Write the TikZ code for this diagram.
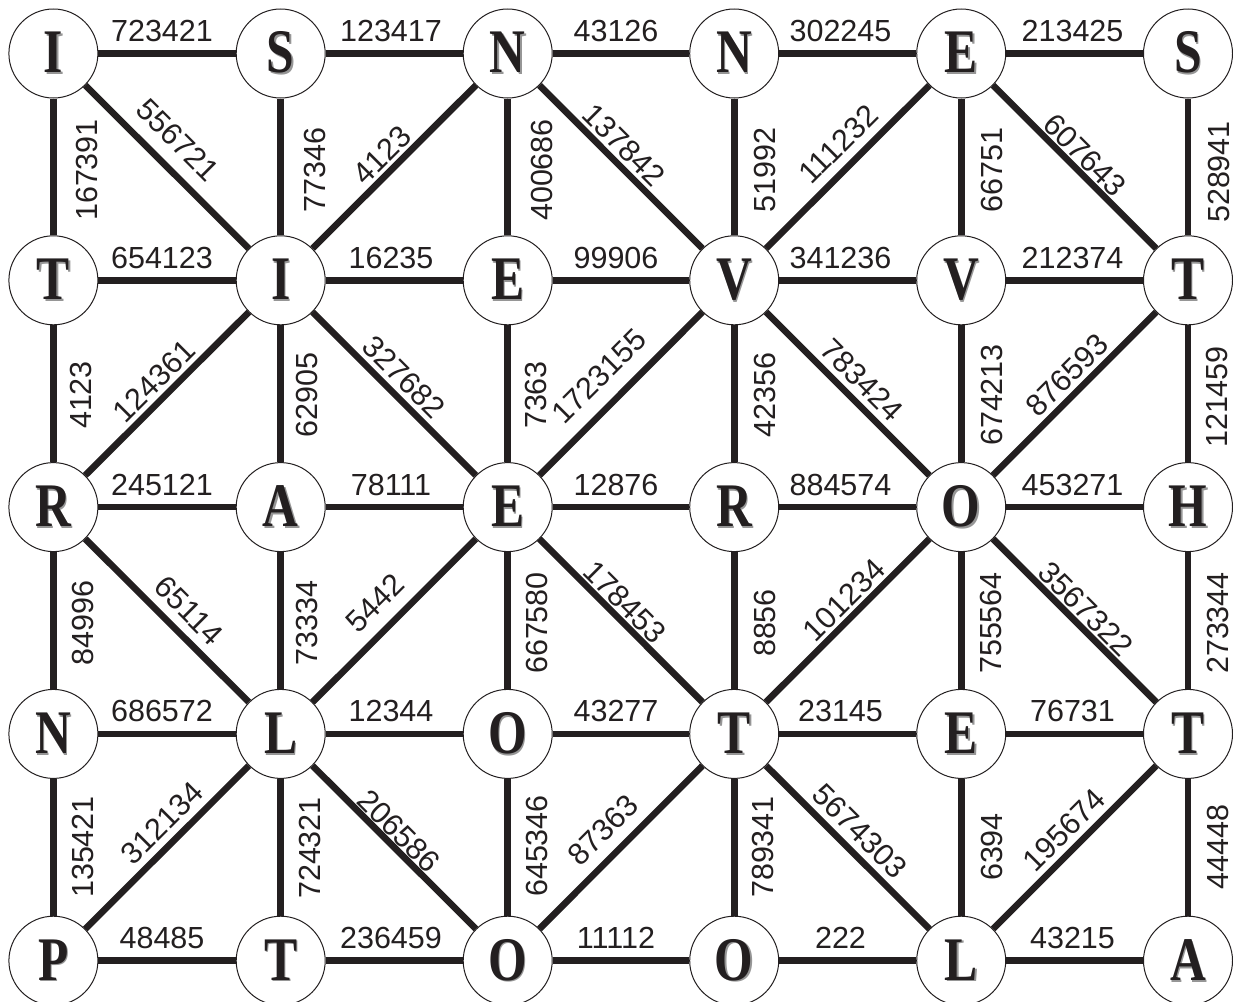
\documentclass[tikz,border=0pt]{standalone}
\usepackage{fontspec}
\usepackage{graphicx}
\newfontfamily\lblfont{Liberation Sans}
\newfontfamily\letfont{Liberation Serif}
\definecolor{ink}{RGB}{35,31,32}
\definecolor{shade}{RGB}{150,150,150}
\newcommand\letr[1]{\scalebox{0.8}[1]{\makebox[0pt][l]{\hspace{1.8pt}\raisebox{-1.8pt}{\textcolor{shade}{#1}}}#1}}
\begin{document}
\begin{tikzpicture}[x=1pt,y=-1pt,
  letter/.style={circle,draw=ink,line width=1pt,fill=white,minimum size=89pt,inner sep=0pt,
    font=\letfont\bfseries\fontsize{62}{70}\selectfont,text=ink},
  edge/.style={draw=ink,line width=6.6pt},
  lbl/.style={inner sep=0pt,font=\lblfont\fontsize{30.5}{36}\selectfont,text=ink},
  vl/.style={lbl,rotate=90},
  dd/.style={lbl,rotate=-45},
  du/.style={lbl,rotate=45}]
\useasboundingbox (0,0) rectangle (1233,1001);
\fill[white] (0,0) rectangle (1233,1001);
% nodes
\node[letter] (n00) at (53.4,53.5) {\letr{I}};
\node[letter] (n01) at (280.7,53.5) {\letr{S}};
\node[letter] (n02) at (507.7,53.5) {\letr{N}};
\node[letter] (n03) at (734.2,53.5) {\letr{N}};
\node[letter] (n04) at (961.2,53.5) {\letr{E}};
\node[letter] (n05) at (1188,53.5) {\letr{S}};
\node[letter] (n10) at (53.4,280.3) {\letr{T}};
\node[letter] (n11) at (280.7,280.3) {\letr{I}};
\node[letter] (n12) at (507.7,280.3) {\letr{E}};
\node[letter] (n13) at (734.2,280.3) {\letr{V}};
\node[letter] (n14) at (961.2,280.3) {\letr{V}};
\node[letter] (n15) at (1188,280.3) {\letr{T}};
\node[letter] (n20) at (53.4,507.1) {\letr{R}};
\node[letter] (n21) at (280.7,507.1) {\letr{A}};
\node[letter] (n22) at (507.7,507.1) {\letr{E}};
\node[letter] (n23) at (734.2,507.1) {\letr{R}};
\node[letter] (n24) at (961.2,507.1) {\letr{O}};
\node[letter] (n25) at (1188,507.1) {\letr{H}};
\node[letter] (n30) at (53.4,733.9) {\letr{N}};
\node[letter] (n31) at (280.7,733.9) {\letr{L}};
\node[letter] (n32) at (507.7,733.9) {\letr{O}};
\node[letter] (n33) at (734.2,733.9) {\letr{T}};
\node[letter] (n34) at (961.2,733.9) {\letr{E}};
\node[letter] (n35) at (1188,733.9) {\letr{T}};
\node[letter] (n40) at (53.4,960.7) {\letr{P}};
\node[letter] (n41) at (280.7,960.7) {\letr{T}};
\node[letter] (n42) at (507.7,960.7) {\letr{O}};
\node[letter] (n43) at (734.2,960.7) {\letr{O}};
\node[letter] (n44) at (961.2,960.7) {\letr{L}};
\node[letter] (n45) at (1188,960.7) {\letr{A}};
% horizontal edges
\draw[edge] (n00) -- (n01); \node[lbl] (h00) at (162,31) {723421};
\draw[edge] (n01) -- (n02); \node[lbl] (h01) at (391,31) {123417};
\draw[edge] (n02) -- (n03); \node[lbl] (h02) at (616,31) {43126};
\draw[edge] (n03) -- (n04); \node[lbl] (h03) at (840.5,31) {302245};
\draw[edge] (n04) -- (n05); \node[lbl] (h04) at (1072.5,31) {213425};
\draw[edge] (n10) -- (n11); \node[lbl] (h10) at (162,257.8) {654123};
\draw[edge] (n11) -- (n12); \node[lbl] (h11) at (391,257.8) {16235};
\draw[edge] (n12) -- (n13); \node[lbl] (h12) at (616,257.8) {99906};
\draw[edge] (n13) -- (n14); \node[lbl] (h13) at (840.5,257.8) {341236};
\draw[edge] (n14) -- (n15); \node[lbl] (h14) at (1072.5,257.8) {212374};
\draw[edge] (n20) -- (n21); \node[lbl] (h20) at (162,484.6) {245121};
\draw[edge] (n21) -- (n22); \node[lbl] (h21) at (391,484.6) {78111};
\draw[edge] (n22) -- (n23); \node[lbl] (h22) at (616,484.6) {12876};
\draw[edge] (n23) -- (n24); \node[lbl] (h23) at (840.5,484.6) {884574};
\draw[edge] (n24) -- (n25); \node[lbl] (h24) at (1072.5,484.6) {453271};
\draw[edge] (n30) -- (n31); \node[lbl] (h30) at (162,711) {686572};
\draw[edge] (n31) -- (n32); \node[lbl] (h31) at (391,711) {12344};
\draw[edge] (n32) -- (n33); \node[lbl] (h32) at (616,711) {43277};
\draw[edge] (n33) -- (n34); \node[lbl] (h33) at (840.5,711) {23145};
\draw[edge] (n34) -- (n35); \node[lbl] (h34) at (1072.5,711) {76731};
\draw[edge] (n40) -- (n41); \node[lbl] (h40) at (162,938.2) {48485};
\draw[edge] (n41) -- (n42); \node[lbl] (h41) at (391,938.2) {236459};
\draw[edge] (n42) -- (n43); \node[lbl] (h42) at (616,938.2) {11112};
\draw[edge] (n43) -- (n44); \node[lbl] (h43) at (840.5,938.2) {222};
\draw[edge] (n44) -- (n45); \node[lbl] (h44) at (1072.5,938.2) {43215};
% vertical edges
\draw[edge] (n00) -- (n10); \node[vl] (v00) at (87,170) {167391};
\draw[edge] (n01) -- (n11); \node[vl] (v01) at (314.5,170) {77346};
\draw[edge] (n02) -- (n12); \node[vl] (v02) at (541.5,170) {400686};
\draw[edge] (n03) -- (n13); \node[vl] (v03) at (765,170) {51992};
\draw[edge] (n04) -- (n14); \node[vl] (v04) at (992,170) {66751};
\draw[edge] (n05) -- (n15); \node[vl] (v05) at (1218.5,172) {528941};
\draw[edge] (n10) -- (n20); \node[vl] (v10) at (81,395) {4123};
\draw[edge] (n11) -- (n21); \node[vl] (v11) at (307,395) {62905};
\draw[edge] (n12) -- (n22); \node[vl] (v12) at (535.7,395) {7363};
\draw[edge] (n13) -- (n23); \node[vl] (v13) at (764.7,395) {42356};
\draw[edge] (n14) -- (n24); \node[vl] (v14) at (991.5,395) {674213};
\draw[edge] (n15) -- (n25); \node[vl] (v15) at (1217,397) {121459};
\draw[edge] (n20) -- (n30); \node[vl] (v20) at (83,623) {84996};
\draw[edge] (n21) -- (n31); \node[vl] (v21) at (307.4,623) {73334};
\draw[edge] (n22) -- (n32); \node[vl] (v22) at (537,623) {667580};
\draw[edge] (n23) -- (n33); \node[vl] (v23) at (764.7,623) {8856};
\draw[edge] (n24) -- (n34); \node[vl] (v24) at (990.6,623) {755564};
\draw[edge] (n25) -- (n35); \node[vl] (v25) at (1218,623) {273344};
\draw[edge] (n30) -- (n40); \node[vl] (v30) at (83,847) {135421};
\draw[edge] (n31) -- (n41); \node[vl] (v31) at (310.4,848) {724321};
\draw[edge] (n32) -- (n42); \node[vl] (v32) at (536.8,846) {645346};
\draw[edge] (n33) -- (n43); \node[vl] (v33) at (763.3,847) {789341};
\draw[edge] (n34) -- (n44); \node[vl] (v34) at (991.5,847) {6394};
\draw[edge] (n35) -- (n45); \node[vl] (v35) at (1218,847) {44448};
% diagonal edges
\draw[edge] (n00) -- (n11); \node[dd] (d00) at (178,140) {556721};
\draw[edge] (n11) -- (n02); \node[du] (d01) at (382.5,155) {4123};
\draw[edge] (n02) -- (n13); \node[dd] (d02) at (624,145) {137842};
\draw[edge] (n13) -- (n04); \node[du] (d03) at (838.4,144) {111232};
\draw[edge] (n04) -- (n15); \node[dd] (d04) at (1084.5,155) {607643};
\draw[edge] (n20) -- (n11); \node[du] (d10) at (154.2,381.3) {124361};
\draw[edge] (n11) -- (n22); \node[dd] (d11) at (404,377) {327682};
\draw[edge] (n22) -- (n13); \node[du] (d12) at (599,376) {1723155};
\draw[edge] (n13) -- (n24); \node[dd] (d13) at (862,380.5) {783424};
\draw[edge] (n24) -- (n15); \node[du] (d14) at (1067.5,375) {876593};
\draw[edge] (n20) -- (n31); \node[dd] (d20) at (188.7,610.5) {65114};
\draw[edge] (n31) -- (n22); \node[du] (d21) at (374.7,603) {5442};
\draw[edge] (n22) -- (n33); \node[dd] (d22) at (625,602.5) {178453};
\draw[edge] (n33) -- (n24); \node[du] (d23) at (844.3,600.5) {101234};
\draw[edge] (n24) -- (n35); \node[dd] (d24) at (1085.5,609) {3567322};
\draw[edge] (n40) -- (n31); \node[du] (d30) at (162,823.5) {312134};
\draw[edge] (n31) -- (n42); \node[dd] (d31) at (399.4,831) {206586};
\draw[edge] (n42) -- (n33); \node[du] (d32) at (603,830) {87363};
\draw[edge] (n33) -- (n44); \node[dd] (d33) at (860,831) {5674303};
\draw[edge] (n44) -- (n35); \node[du] (d34) at (1064.5,830) {195674};
\end{tikzpicture}
\end{document}
